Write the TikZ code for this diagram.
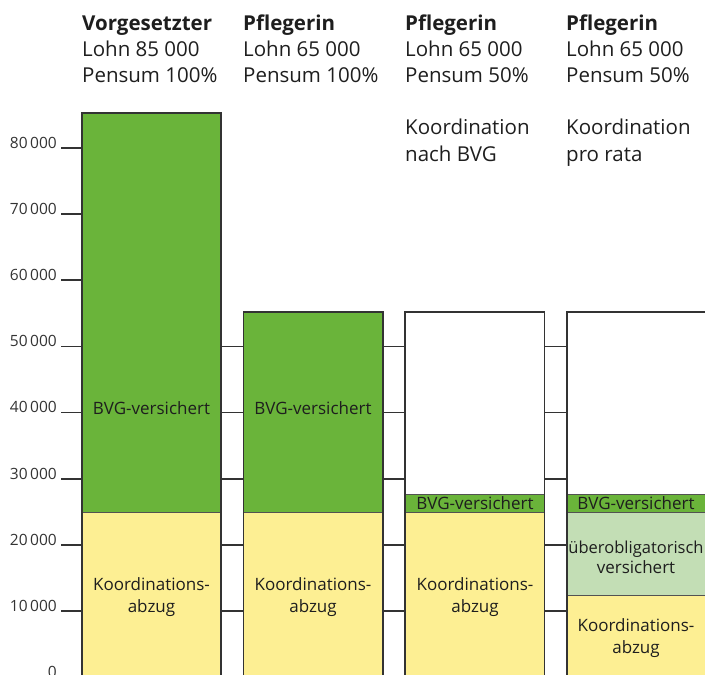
\documentclass[tikz,border=0pt]{standalone}
\usepackage{fontspec}
\setmainfont{Open Sans}
\definecolor{bvg}{HTML}{6AB43A}
\definecolor{koord}{HTML}{FDEF93}
\definecolor{ueber}{HTML}{C3DEB5}
\definecolor{txt}{HTML}{1E1E1E}
\definecolor{edge}{HTML}{333333}
\begin{document}
\begin{tikzpicture}[x=1pt,y=-1pt,
  hdrb/.style={anchor=base west, inner sep=0, text=txt, font=\fontsize{20.5}{24}\selectfont\bfseries},
  hdr/.style={anchor=base west, inner sep=0, text=txt, font=\fontsize{20.5}{24}\selectfont},
  axlab/.style={anchor=base east, inner sep=0, text=edge, font=\fontsize{15.5}{18}\selectfont},
  barlab/.style={anchor=base, inner sep=0, text=txt, font=\fontsize{17}{20}\selectfont},
  baredge/.style={draw=edge, line width=1.8pt},
  segline/.style={draw=edge!85, line width=1pt},
  conn/.style={draw=edge, line width=1.2pt},
  tick/.style={draw=edge, line width=1.2pt}]
\useasboundingbox (0,0) rectangle (705,675);

% ---------- fills ----------
% bar 1
\fill[bvg]   (82,113.3) rectangle (221,512);
\fill[koord] (82,512)   rectangle (221,680);
% bar 2
\fill[bvg]   (243.5,312) rectangle (383,512);
\fill[koord] (243.5,512) rectangle (383,680);
% bar 3
\fill[white] (405,312)   rectangle (544.5,494);
\fill[bvg]   (405,494)   rectangle (544.5,512);
\fill[koord] (405,512)   rectangle (544.5,680);
% bar 4
\fill[white] (567,312)   rectangle (710,494);
\fill[bvg]   (567,494)   rectangle (710,512);
\fill[ueber] (567,512)   rectangle (710,595);
\fill[koord] (567,595)   rectangle (710,680);

% ---------- segment lines ----------
\draw[segline] (82,512) -- (221,512);
\draw[segline] (243.5,512) -- (383,512);
\draw[segline] (405,494) -- (544.5,494);
\draw[segline] (405,512) -- (544.5,512);
\draw[segline] (567,494) -- (710,494);
\draw[segline] (567,512) -- (710,512);
\draw[segline] (567,595) -- (710,595);

% ---------- bar outlines ----------
\draw[baredge] (82,690) -- (82,113.3) -- (221,113.3) -- (221,690);
\draw[baredge] (243.5,690) -- (243.5,312) -- (383,312) -- (383,690);
\draw[baredge] (405,690) -- (405,312) -- (544.5,312) -- (544.5,690);
\draw[baredge] (567,690) -- (567,312) -- (710,312);

% ---------- axis ticks and labels ----------
\foreach \yy/\lab in {148/80\,000, 214/70\,000, 280/60\,000, 346.5/50\,000,
  412.5/40\,000, 479/30\,000, 545/20\,000, 611/10\,000, 677/0} {
  \draw[tick] (61,\yy) -- (82,\yy);
  \node[axlab] at (57,\yy) {\lab};
}

% ---------- connectors between bars ----------
\foreach \yy in {346.5, 412.5, 479, 545, 611} {
  \draw[conn] (221,\yy) -- (243.5,\yy);
  \draw[conn] (383,\yy) -- (405,\yy);
  \draw[conn] (544.5,\yy) -- (567,\yy);
}

% ---------- headers ----------
\node[hdrb] (h1a) at (82,30) {Vorgesetzter};
\node[hdr]  (h1b) at (82,56) {Lohn 85 000};
\node[hdr]  (h1c) at (82,82) {Pensum 100\%};
\node[hdrb] (h2a) at (243,30) {Pflegerin};
\node[hdr]  (h2b) at (243,56) {Lohn 65 000};
\node[hdr]  (h2c) at (243,82) {Pensum 100\%};
\node[hdrb] (h3a) at (405,30) {Pflegerin};
\node[hdr]  (h3b) at (405,56) {Lohn 65 000};
\node[hdr]  (h3c) at (405,82) {Pensum 50\%};
\node[hdr]  (h3d) at (405,134.5) {Koordination};
\node[hdr]  (h3e) at (405,161) {nach BVG};
\node[hdrb] (h4a) at (566,30) {Pflegerin};
\node[hdr]  (h4b) at (566,56) {Lohn 65 000};
\node[hdr]  (h4c) at (566,82) {Pensum 50\%};
\node[hdr]  (h4d) at (566,134.5) {Koordination};
\node[hdr]  (h4e) at (566,161) {pro rata};

% ---------- bar labels ----------
\node[barlab] (b1v) at (151.5,414) {BVG-versichert};
\node[barlab] (b1k) at (151.5,590) {Koordinations-};
\node[barlab] (b1a) at (151.5,612) {abzug};
\node[barlab] (b2v) at (313,414) {BVG-versichert};
\node[barlab] (b2k) at (313,590) {Koordinations-};
\node[barlab] (b2a) at (313,612) {abzug};
\node[barlab] (b3v) at (475,509.5) {BVG-versichert};
\node[barlab] (b3k) at (475,590) {Koordinations-};
\node[barlab] (b3a) at (475,612) {abzug};
\node[barlab] (b4v) at (636,509.5) {BVG-versichert};
\node[barlab, font=\fontsize{16.5}{20}\selectfont] (b4u) at (636,553.5) {überobligatorisch};
\node[barlab] (b4w) at (636,573.5) {versichert};
\node[barlab] (b4k) at (636,631.5) {Koordinations-};
\node[barlab] (b4a) at (636,653) {abzug};
\end{tikzpicture}
\end{document}
